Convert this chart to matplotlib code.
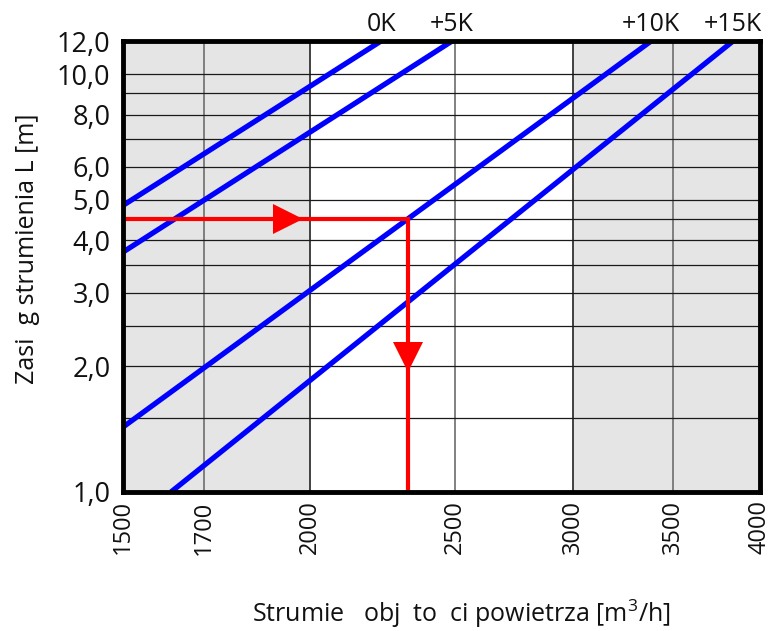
import matplotlib
matplotlib.use("Agg")
import matplotlib.pyplot as plt
from matplotlib.ticker import FixedLocator, NullLocator
import matplotlib.transforms as mtrans

plt.rcParams['font.family'] = ['Open Sans', 'DejaVu Sans']

# ---- data ----
curve_labels = ["0K", "+5K", "+10K", "+15K"]
curve_x = [[1500, 2232], [1500, 2490], [1500, 3383], [1615, 3838]]
curve_y = [[4.85, 12.0], [3.75, 12.0], [1.43, 12.0], [1.0, 12.0]]

example_flow = 2325
example_range = 4.5
arrow_right_x = 1935
arrow_down_y = 2.10

shade_spans = [[1500, 2000], [3000, 4000]]

x_ticks = [1500, 1700, 2000, 2500, 3000, 3500, 4000]
x_grid = [1700, 2000, 2500, 3000, 3500]
y_ticks = [1.0, 2.0, 3.0, 4.0, 5.0, 6.0, 8.0, 10.0, 12.0]
y_tick_labels = ["1,0", "2,0", "3,0", "4,0", "5,0", "6,0", "8,0", "10,0", "12,0"]
y_grid = [1.5, 2.0, 2.5, 3.0, 3.5, 4.0, 4.5, 5.0, 6.0, 7.0, 8.0, 9.0, 10.0]

x_min, x_max = 1500, 4000
y_min, y_max = 1.0, 12.0

xlabel = r"Strumie   obj  to  ci powietrza [m$^{\mathregular{3}}$/h]"
ylabel = "Zasi  g strumienia L [m]"

# ---- figure ----
fig = plt.figure(figsize=(7.74, 6.31), dpi=100)
ax = fig.add_axes([123/774, 1 - 492/631, (760-123)/774, (492-41)/631])
ax.set_xscale('log')
ax.set_yscale('log')
ax.set_xlim(x_min, x_max)
ax.set_ylim(y_min, y_max)

for a, b in shade_spans:
    ax.axvspan(a, b, color='#e5e5e5', zorder=0, lw=0)

for gx in x_grid:
    c = '#333333' if gx in (2000, 3000) else '#777777'
    ax.axvline(gx, color=c, lw=1.3, zorder=1)
for gy in y_grid:
    ax.axhline(gy, color='#1a1a1a', lw=0.9, zorder=1)

for xs, ys in zip(curve_x, curve_y):
    ax.plot(xs, ys, color='#0000ff', lw=3.8, solid_capstyle='butt', zorder=3)

# red example path
ax.plot([x_min, example_flow, example_flow], [example_range, example_range, y_min],
        color='#ff0000', lw=3.0, zorder=4, solid_joinstyle='miter')
ax.plot([arrow_right_x], [example_range], marker='>', color='#ff0000',
        markersize=21, zorder=5, markeredgewidth=0)
ax.plot([example_flow], [arrow_down_y], marker='v', color='#ff0000',
        markersize=21, zorder=5, markeredgewidth=0)

# labels above curves
trans = mtrans.blended_transform_factory(ax.transData, ax.transAxes)
for lab, xs in zip(curve_labels, curve_x):
    ax.text(xs[1], 1.036, lab, transform=trans, ha='center', va='center',
            fontsize=18, color='#111111')

ax.xaxis.set_major_locator(FixedLocator(x_ticks))
ax.xaxis.set_minor_locator(NullLocator())
ax.set_xticklabels([str(v) for v in x_ticks], rotation=90, fontsize=17)
ax.yaxis.set_major_locator(FixedLocator(y_ticks))
ax.yaxis.set_minor_locator(NullLocator())
ax.set_yticklabels(y_tick_labels, fontsize=19.5)
ax.tick_params(length=0, pad=6, colors='#111111')
ax.tick_params(axis='y', pad=9)

for s in ax.spines.values():
    s.set_linewidth(3.5)
    s.set_color('black')
    s.set_zorder(6)

fig.text(461/774, 1 - 614/631, xlabel, ha='center', va='center', fontsize=18, color='#111111')
fig.text(28/774, 1 - 249/631, ylabel, ha='center', va='center', rotation=90,
         fontsize=18, color='#111111')

fig.savefig('out.png', dpi=100)
